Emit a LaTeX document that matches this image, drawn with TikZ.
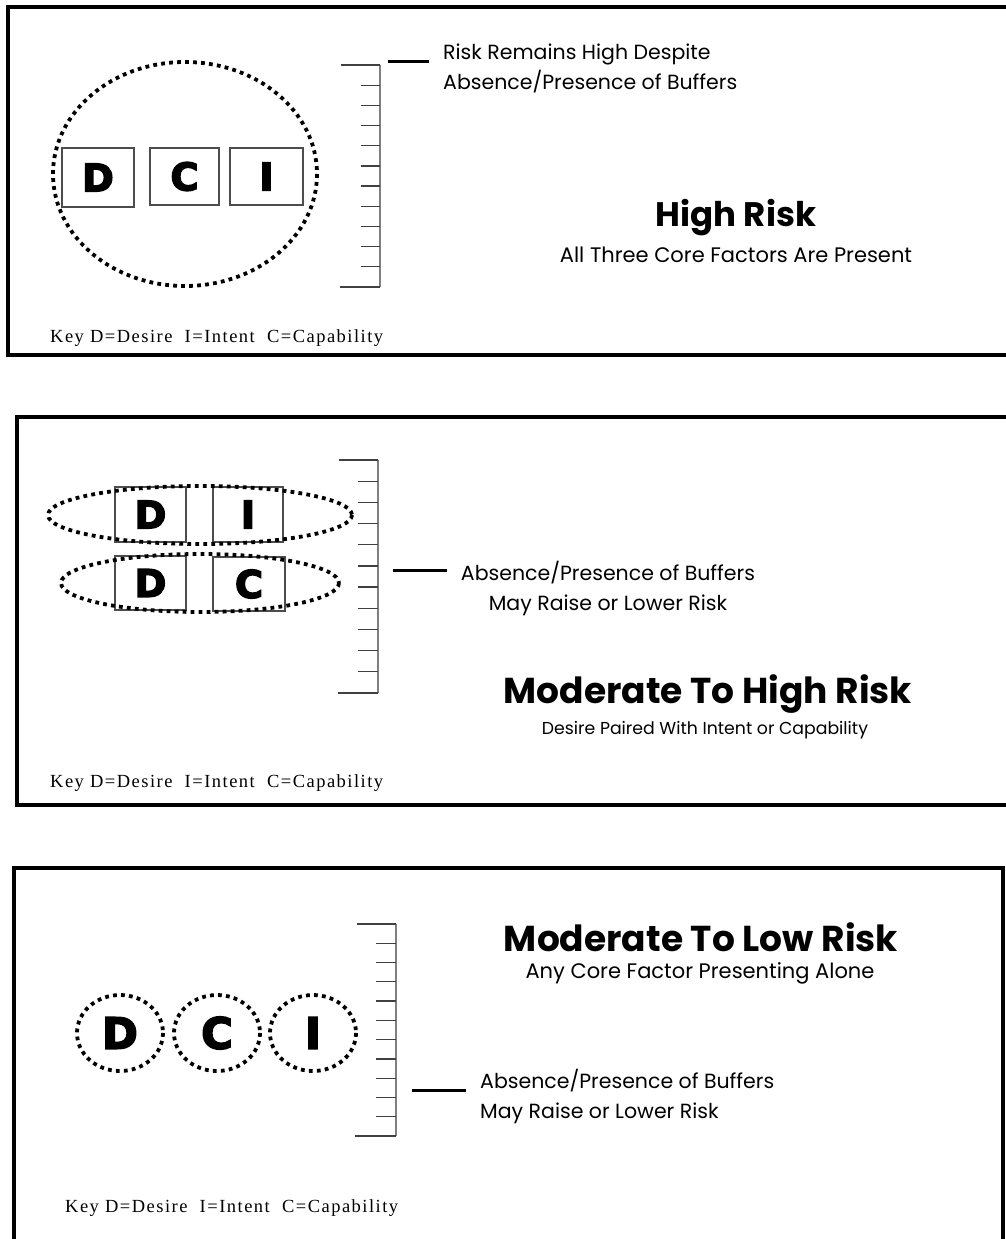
\documentclass[tikz,border=0pt]{standalone}
\usepackage{fontspec}
\setmainfont{Poppins}
\newfontfamily\keyfont[LetterSpace=8]{Liberation Serif}
\newfontfamily\letterfont[FakeBold=4]{DejaVu Sans Bold}
\begin{document}
\begin{tikzpicture}[x=1pt,y=-1pt,
  frame/.style={draw=black,line width=3.5pt},
  dotline/.style={draw=black,line width=3.8pt,dash pattern=on 3.8pt off 4.2pt},
  lbox/.style={draw=black!70,line width=1.2pt,inner sep=0pt,font=\letterfont\fontsize{38}{38}\selectfont},
  lcirc/.style={inner sep=0pt,font=\letterfont\fontsize{43}{43}\selectfont},
  marker/.style={draw=black,line width=3pt},
  scalev/.style={draw=black!50,line width=2pt},
  scaleh/.style={draw=black!75,line width=1.2pt},
  body/.style={inner sep=0pt,font=\fontsize{20.5}{30}\selectfont},
  subt/.style={inner sep=0pt,font=\fontsize{21}{24}\selectfont},
  small/.style={inner sep=0pt,font=\fontsize{17.3}{20}\selectfont},
  title/.style={inner sep=0pt,font=\bfseries\fontsize{36}{40}\selectfont},
  keytext/.style={inner sep=0pt,anchor=west,font=\keyfont\fontsize{18.5}{20}\selectfont}
]
\useasboundingbox (0,0) rectangle (1006,1239);
\clip (0,0) rectangle (1006,1239);
\fill[white] (0,0) rectangle (1006,1239);

% ---------- Panel 1 ----------
\draw[frame] (8,7) rectangle (1030,355);
\draw[dotline] (185,174) ellipse [x radius=132, y radius=112];
\node[lbox,minimum width=72pt,minimum height=59pt] (d1) at (98,177.5) {D};
\node[lbox,minimum width=69pt,minimum height=57pt] (c1) at (184.5,176.5) {C};
\node[lbox,minimum width=73pt,minimum height=57pt] (i1) at (266.5,176.5) {I};
\draw[scalev] (380,65) -- (380,287);
\draw[scaleh] (341,65) -- (380,65) (340,287) -- (380,287);
\foreach \k in {1,...,10} \draw[scaleh] (361,65+20.18*\k) -- (380,65+20.18*\k);
\coordinate (m1a) at (388,62); \coordinate (m1b) at (429,62);
\draw[marker] (m1a) -- (m1b);
\node[body,anchor=west,align=left] (t1) at (443,68) {Risk Remains High Despite\\Absence/Presence of Buffers};
\node[title,font=\bfseries\fontsize{34}{40}\selectfont] (h1) at (736,218) {High Risk};
\node[subt] (s1) at (736,255) {All Three Core Factors Are Present};
\node[keytext] (k1) at (50,338) {Key D=Desire\ \ I=Intent\ \ C=Capability};

% ---------- Panel 2 ----------
\draw[frame] (17,417) rectangle (1030,805);
\node[lbox,minimum width=71pt,minimum height=55pt] (d2) at (150.5,514.5) {D};
\node[lbox,minimum width=70pt,minimum height=55pt] (i2) at (248,514.5) {I};
\node[lbox,minimum width=71pt,minimum height=54pt] (d3) at (150.5,583) {D};
\node[lbox,minimum width=72pt,minimum height=54pt] (c2) at (249,584) {C};
\draw[dotline] (200,515) ellipse [x radius=152, y radius=29];
\draw[dotline] (200,583) ellipse [x radius=139, y radius=29];
\draw[scalev] (378,460) -- (378,693);
\draw[scaleh] (339,460) -- (378,460) (338,693) -- (378,693);
\foreach \k in {1,...,10} \draw[scaleh] (358,460+21.18*\k) -- (378,460+21.18*\k);
\coordinate (m2a) at (393,570); \coordinate (m2b) at (447,570);
\draw[marker] (m2a) -- (m2b);
\node[body,align=center] (t2) at (608,588) {Absence/Presence of Buffers\\May Raise or Lower Risk};
\node[title] (h2) at (708,694) {Moderate To High Risk};
\node[small] (s2) at (705,730) {Desire Paired With Intent or Capability};
\node[keytext] (k2) at (50,783) {Key D=Desire\ \ I=Intent\ \ C=Capability};

% ---------- Panel 3 ----------
\draw[frame] (14,868) rectangle (1003,1260);
\draw[dotline] (120,1033) ellipse [x radius=43, y radius=38];
\draw[dotline] (217,1033) ellipse [x radius=43, y radius=38];
\draw[dotline] (313,1033) ellipse [x radius=43, y radius=38];
\node[lcirc] (d4) at (120,1033) {D};
\node[lcirc] (c3) at (217,1033) {C};
\node[lcirc] (i3) at (313,1033) {I};
\draw[scalev] (396,924) -- (396,1136);
\draw[scaleh] (357,924) -- (396,924) (355,1136) -- (396,1136);
\foreach \k in {1,...,10} \draw[scaleh] (376,924+19.27*\k) -- (396,924+19.27*\k);
\coordinate (m3a) at (412,1090); \coordinate (m3b) at (466,1090);
\draw[marker] (m3a) -- (m3b);
\node[title] (h3) at (701,937) {Moderate To Low Risk};
\node[subt] (s3) at (700,973) {Any Core Factor Presenting Alone};
\node[body,anchor=west,align=left] (t3) at (480,1096) {Absence/Presence of Buffers\\May Raise or Lower Risk};
\node[keytext] (k3) at (65,1208) {Key D=Desire\ \ I=Intent\ \ C=Capability};
\end{tikzpicture}
\end{document}
